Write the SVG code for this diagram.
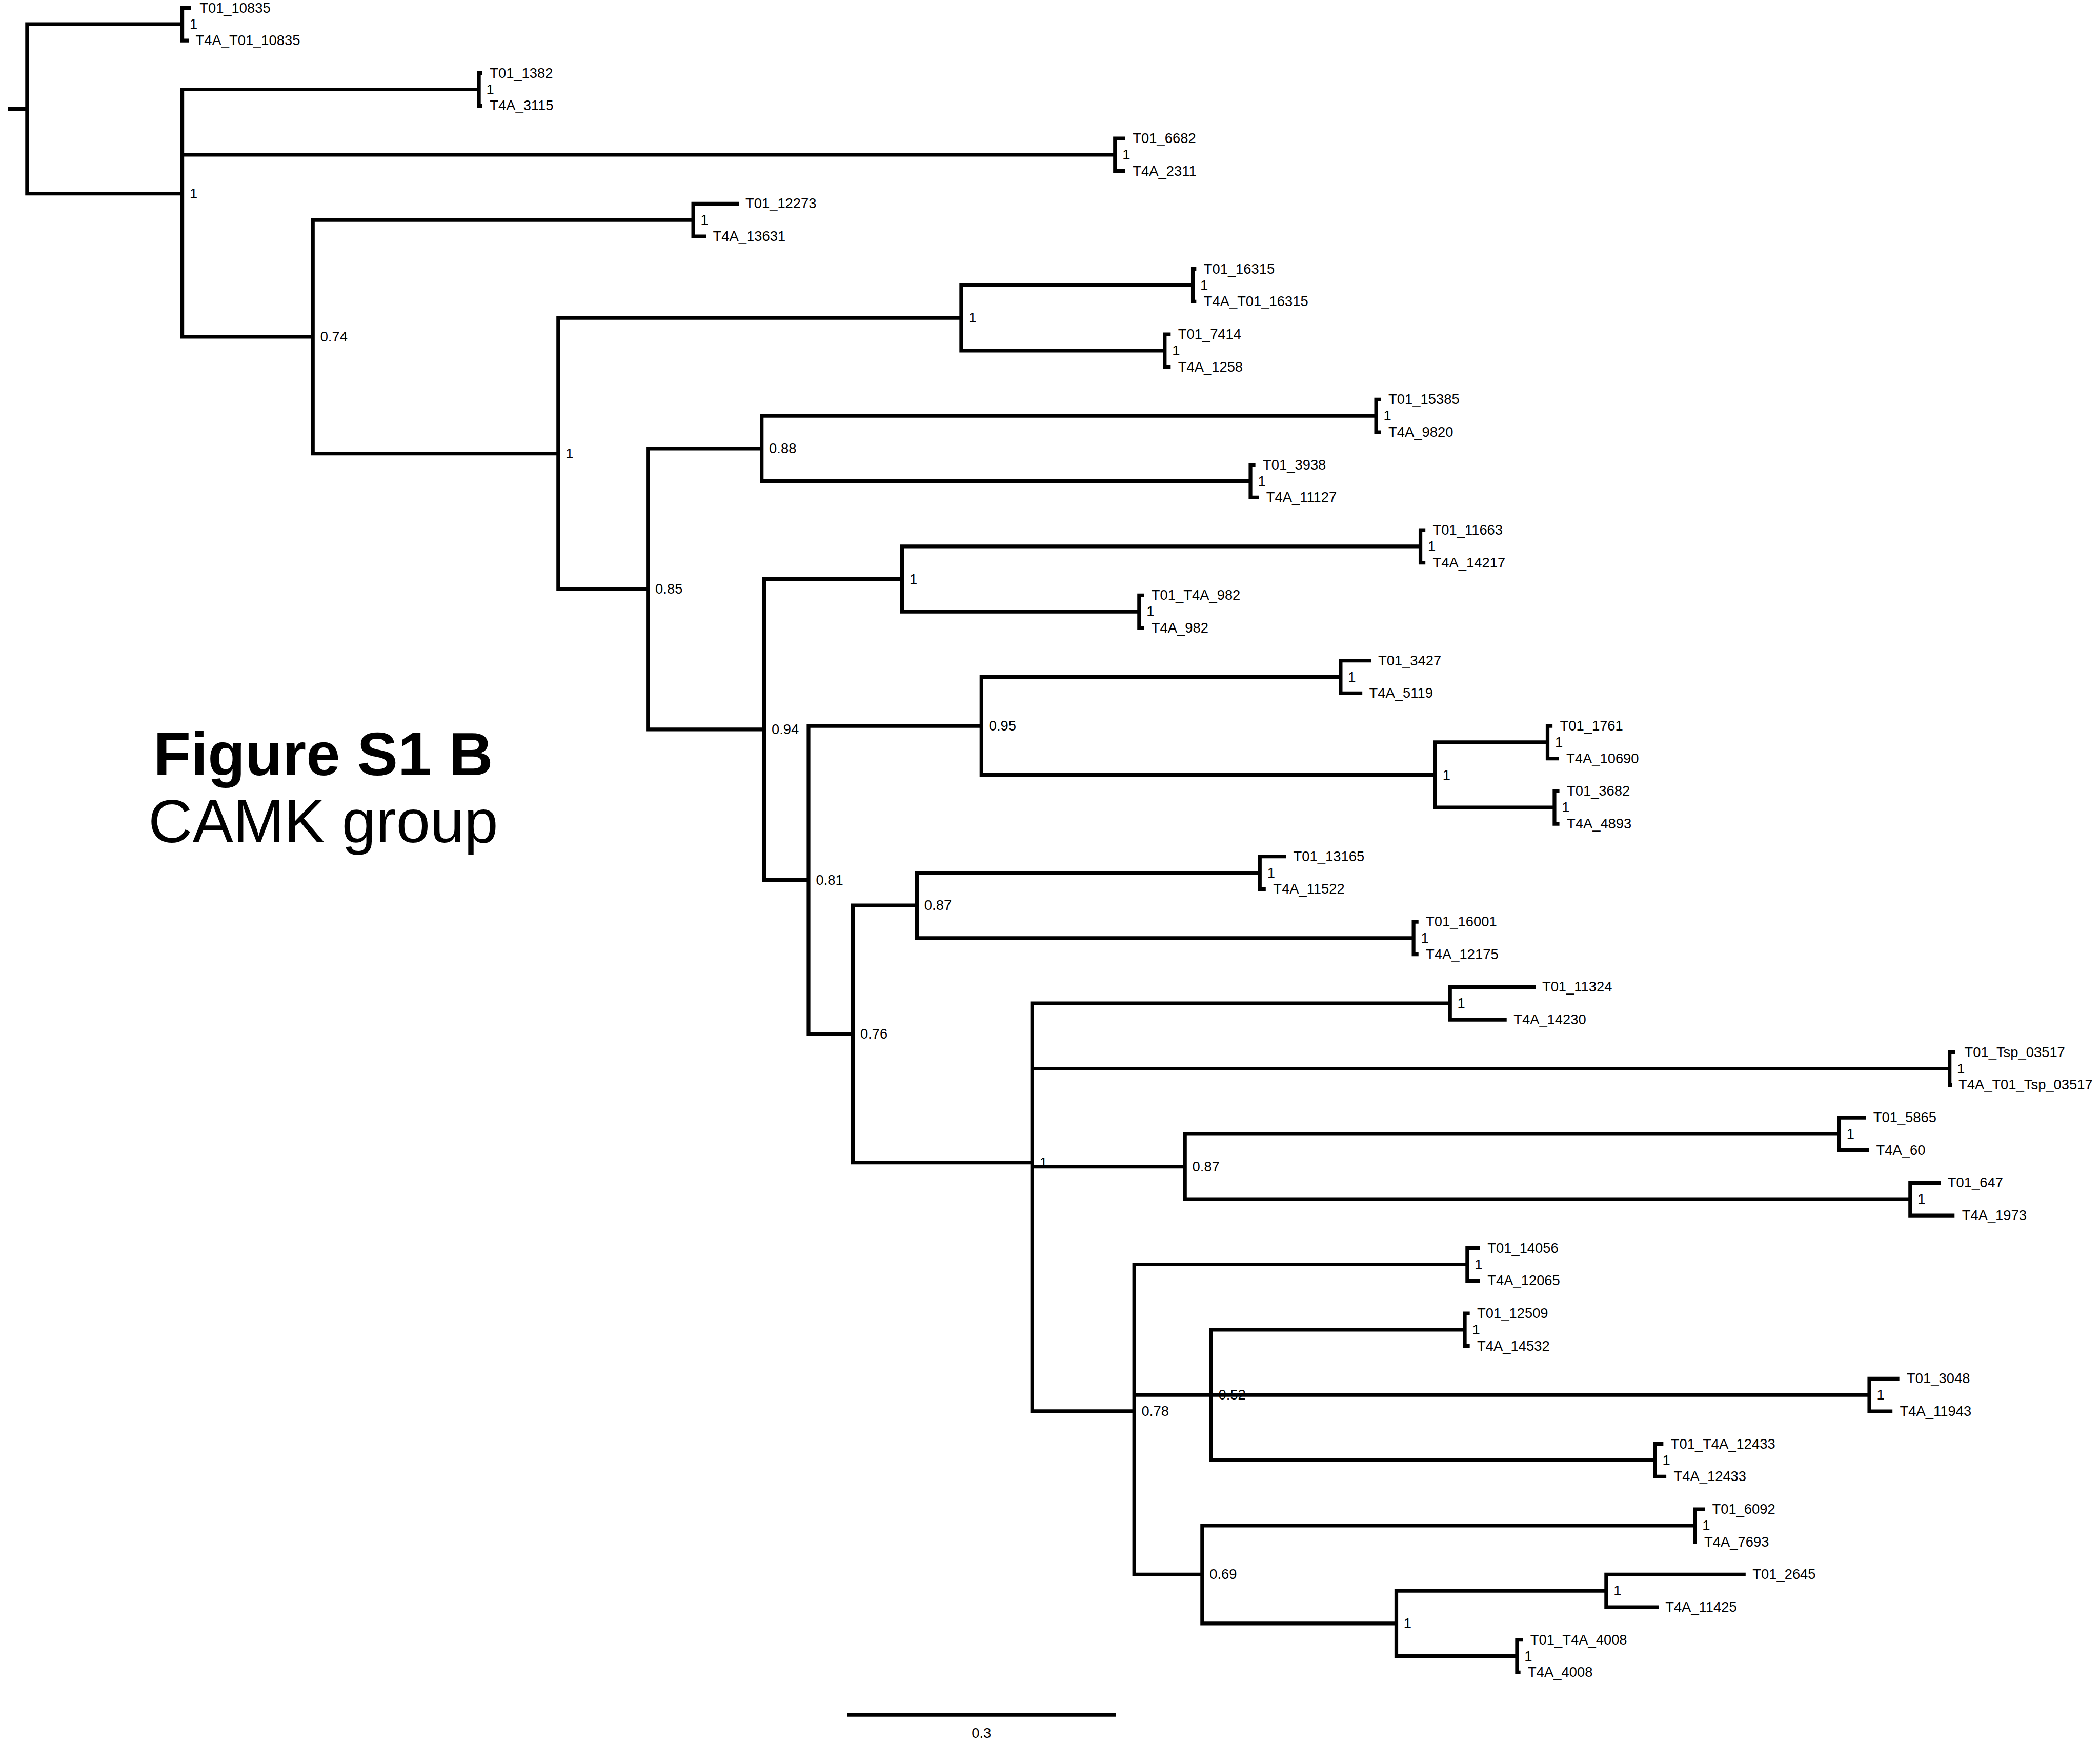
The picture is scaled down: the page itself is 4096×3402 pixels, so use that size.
<svg xmlns="http://www.w3.org/2000/svg" width="4096" height="3402" viewBox="0 0 4096 3402">
<style>
.b{fill:none;stroke:#000;stroke-width:7.5;stroke-linejoin:miter;stroke-linecap:butt}
.t{font-family:"Liberation Sans",Arial,Helvetica,sans-serif;font-size:28.5px;fill:#000}
.s{font-family:"Liberation Sans",Arial,Helvetica,sans-serif;font-size:28.5px;fill:#000}
.h1{font-family:"Liberation Sans",Arial,Helvetica,sans-serif;font-size:124px;font-weight:bold;fill:#000;text-anchor:middle}
.h2{font-family:"Liberation Sans",Arial,Helvetica,sans-serif;font-size:124px;fill:#000;text-anchor:middle}
</style>
<rect width="4096" height="3402" fill="#fff"/>
<g transform="scale(0.961)">
<g id="connectors">
<path class="b" d="M16 221.1H55"/>
<path class="b" d="M370 49.1H55V393.1H370"/>
<path class="b" d="M972 181.6H370V683.5H635M370 314.1H2263"/>
<path class="b" d="M1407 446.6H635V920.5H1133"/>
<path class="b" d="M1951 645.4H1133V1195.6H1315"/>
<path class="b" d="M2421 579.1H1951V711.6H2364"/>
<path class="b" d="M1546 910.4H1315V1480.7H1551"/>
<path class="b" d="M2793 844.1H1546V976.6H2538"/>
<path class="b" d="M1831 1175.4H1551V1786.1H1641"/>
<path class="b" d="M2883 1109.1H1831V1241.6H2312"/>
<path class="b" d="M1992 1473.5H1641V2098.7H1731"/>
<path class="b" d="M2721 1374.1H1992V1572.9H2913"/>
<path class="b" d="M3141 1506.6H2913V1639.1H3155"/>
<path class="b" d="M1861 1837.9H1731V2359.6H2095"/>
<path class="b" d="M2557 1771.6H1861V1904.1H2869"/>
<path class="b" d="M2943 2036.6H2095V2864.7H2302M2095 2169.1H3957M2095 2367.9H2405"/>
<path class="b" d="M3733 2301.6H2405V2434.1H3877"/>
<path class="b" d="M2978 2566.6H2302V3196H2440M2302 2831.6H2458"/>
<path class="b" d="M2973 2699.1H2458V2964.1H3359M2458 2831.6H3794"/>
<path class="b" d="M3440 3096.6H2440V3295.4H2834"/>
<path class="b" d="M3260 3229.1H2834V3361.6H3079"/>
<path class="b" d="M388 16H370V82.25H383"/>
<path class="b" d="M979 148.5H972V214.75H979"/>
<path class="b" d="M2284 281H2263V347.25H2284"/>
<path class="b" d="M1500 413.5H1407V479.75H1433"/>
<path class="b" d="M2428 546H2421V612.25H2428"/>
<path class="b" d="M2376 678.5H2364V744.75H2376"/>
<path class="b" d="M2803 811H2793V877.25H2803"/>
<path class="b" d="M2548 943.5H2538V1009.75H2555"/>
<path class="b" d="M2893 1076H2883V1142.25H2893"/>
<path class="b" d="M2322 1208.5H2312V1274.75H2322"/>
<path class="b" d="M2783 1341H2721V1407.25H2765"/>
<path class="b" d="M3151 1473.5H3141V1539.75H3164"/>
<path class="b" d="M3165 1606H3155V1672.25H3165"/>
<path class="b" d="M2610 1738.5H2557V1804.75H2569"/>
<path class="b" d="M2879 1871H2869V1937.25H2879"/>
<path class="b" d="M3117 2003.5H2943V2069.75H3058"/>
<path class="b" d="M3968 2136H3957V2202.25H3962"/>
<path class="b" d="M3787 2268.5H3733V2334.75H3793"/>
<path class="b" d="M3939 2401H3877V2467.25H3967"/>
<path class="b" d="M3004 2533.5H2978V2599.75H3004"/>
<path class="b" d="M2983 2666H2973V2732.25H2983"/>
<path class="b" d="M3855 2798.5H3794V2864.75H3841"/>
<path class="b" d="M3376 2931H3359V2997.25H3382"/>
<path class="b" d="M3460 3063.5H3440V3129.75H3444"/>
<path class="b" d="M3543 3196H3260V3262.25H3367"/>
<path class="b" d="M3091 3328.5H3079V3394.75H3086"/>
<path class="b" d="M1719.5 3481H2265"/>
</g>
<g id="internal-nodes">
<g id="n-root1"><text class="s" x="385" y="402.6">1</text></g>
<g id="n-074"><text class="s" x="650" y="693">0.74</text></g>
<g id="n-416"><text class="s" x="1148" y="930">1</text></g>
<g id="n-717"><text class="s" x="1966" y="654.9">1</text></g>
<g id="n-085"><text class="s" x="1330" y="1205.1">0.85</text></g>
<g id="n-088"><text class="s" x="1561" y="919.9">0.88</text></g>
<g id="n-094"><text class="s" x="1566" y="1490.2">0.94</text></g>
<g id="n-673"><text class="s" x="1846" y="1184.9">1</text></g>
<g id="n-081"><text class="s" x="1656" y="1795.6">0.81</text></g>
<g id="n-095"><text class="s" x="2007" y="1483">0.95</text></g>
<g id="n-1071"><text class="s" x="2928" y="1582.4">1</text></g>
<g id="n-076"><text class="s" x="1746" y="2108.2">0.76</text></g>
<g id="n-087a"><text class="s" x="1876" y="1847.4">0.87</text></g>
<g id="n-770"><text class="s" x="2110" y="2369.1">1</text></g>
<g id="n-087b"><text class="s" x="2420" y="2377.4">0.87</text></g>
<g id="n-078"><text class="s" x="2317" y="2874.2">0.78</text></g>
<g id="n-052"><text class="s" x="2473" y="2841.1">0.52</text></g>
<g id="n-069"><text class="s" x="2455" y="3205.5">0.69</text></g>
<g id="n-1042"><text class="s" x="2849" y="3304.9">1</text></g>
<g id="p0"><text class="s" x="385" y="58.6">1</text></g>
<g id="p1"><text class="s" x="987" y="191.1">1</text></g>
<g id="p2"><text class="s" x="2278" y="323.6">1</text></g>
<g id="p3"><text class="s" x="1422" y="456.1">1</text></g>
<g id="p4"><text class="s" x="2436" y="588.6">1</text></g>
<g id="p5"><text class="s" x="2379" y="721.1">1</text></g>
<g id="p6"><text class="s" x="2808" y="853.6">1</text></g>
<g id="p7"><text class="s" x="2553" y="986.1">1</text></g>
<g id="p8"><text class="s" x="2898" y="1118.6">1</text></g>
<g id="p9"><text class="s" x="2327" y="1251.1">1</text></g>
<g id="p10"><text class="s" x="2736" y="1383.6">1</text></g>
<g id="p11"><text class="s" x="3156" y="1516.1">1</text></g>
<g id="p12"><text class="s" x="3170" y="1648.6">1</text></g>
<g id="p13"><text class="s" x="2572" y="1781.1">1</text></g>
<g id="p14"><text class="s" x="2884" y="1913.6">1</text></g>
<g id="p15"><text class="s" x="2958" y="2046.1">1</text></g>
<g id="p16"><text class="s" x="3972" y="2178.6">1</text></g>
<g id="p17"><text class="s" x="3748" y="2311.1">1</text></g>
<g id="p18"><text class="s" x="3892" y="2443.6">1</text></g>
<g id="p19"><text class="s" x="2993" y="2576.1">1</text></g>
<g id="p20"><text class="s" x="2988" y="2708.6">1</text></g>
<g id="p21"><text class="s" x="3809" y="2841.1">1</text></g>
<g id="p22"><text class="s" x="3374" y="2973.6">1</text></g>
<g id="p23"><text class="s" x="3455" y="3106.1">1</text></g>
<g id="p24"><text class="s" x="3275" y="3238.6">1</text></g>
<g id="p25"><text class="s" x="3094" y="3371.1">1</text></g>
</g>
<g id="leaves">
<g id="l0"><text class="t" x="405" y="25.5">T01_10835</text></g>
<g id="l1"><text class="t" x="397" y="91.75">T4A_T01_10835</text></g>
<g id="l2"><text class="t" x="994" y="158">T01_1382</text></g>
<g id="l3"><text class="t" x="994" y="224.25">T4A_3115</text></g>
<g id="l4"><text class="t" x="2299" y="290.5">T01_6682</text></g>
<g id="l5"><text class="t" x="2299" y="356.75">T4A_2311</text></g>
<g id="l6"><text class="t" x="1513" y="423">T01_12273</text></g>
<g id="l7"><text class="t" x="1447" y="489.25">T4A_13631</text></g>
<g id="l8"><text class="t" x="2443" y="555.5">T01_16315</text></g>
<g id="l9"><text class="t" x="2443" y="621.75">T4A_T01_16315</text></g>
<g id="l10"><text class="t" x="2391" y="688">T01_7414</text></g>
<g id="l11"><text class="t" x="2391" y="754.25">T4A_1258</text></g>
<g id="l12"><text class="t" x="2818" y="820.5">T01_15385</text></g>
<g id="l13"><text class="t" x="2818" y="886.75">T4A_9820</text></g>
<g id="l14"><text class="t" x="2563" y="953">T01_3938</text></g>
<g id="l15"><text class="t" x="2570" y="1019.25">T4A_11127</text></g>
<g id="l16"><text class="t" x="2908" y="1085.5">T01_11663</text></g>
<g id="l17"><text class="t" x="2908" y="1151.75">T4A_14217</text></g>
<g id="l18"><text class="t" x="2337" y="1218">T01_T4A_982</text></g>
<g id="l19"><text class="t" x="2337" y="1284.25">T4A_982</text></g>
<g id="l20"><text class="t" x="2797" y="1350.5">T01_3427</text></g>
<g id="l21"><text class="t" x="2779" y="1416.75">T4A_5119</text></g>
<g id="l22"><text class="t" x="3166" y="1483">T01_1761</text></g>
<g id="l23"><text class="t" x="3179" y="1549.25">T4A_10690</text></g>
<g id="l24"><text class="t" x="3180" y="1615.5">T01_3682</text></g>
<g id="l25"><text class="t" x="3180" y="1681.75">T4A_4893</text></g>
<g id="l26"><text class="t" x="2625" y="1748">T01_13165</text></g>
<g id="l27"><text class="t" x="2584" y="1814.25">T4A_11522</text></g>
<g id="l28"><text class="t" x="2894" y="1880.5">T01_16001</text></g>
<g id="l29"><text class="t" x="2894" y="1946.75">T4A_12175</text></g>
<g id="l30"><text class="t" x="3130" y="2013">T01_11324</text></g>
<g id="l31"><text class="t" x="3072" y="2079.25">T4A_14230</text></g>
<g id="l32"><text class="t" x="3987" y="2145.5">T01_Tsp_03517</text></g>
<g id="l33"><text class="t" x="3975" y="2211.75">T4A_T01_Tsp_03517</text></g>
<g id="l34"><text class="t" x="3802" y="2278">T01_5865</text></g>
<g id="l35"><text class="t" x="3808" y="2344.25">T4A_60</text></g>
<g id="l36"><text class="t" x="3953" y="2410.5">T01_647</text></g>
<g id="l37"><text class="t" x="3982" y="2476.75">T4A_1973</text></g>
<g id="l38"><text class="t" x="3019" y="2543">T01_14056</text></g>
<g id="l39"><text class="t" x="3019" y="2609.25">T4A_12065</text></g>
<g id="l40"><text class="t" x="2998" y="2675.5">T01_12509</text></g>
<g id="l41"><text class="t" x="2998" y="2741.75">T4A_14532</text></g>
<g id="l42"><text class="t" x="3870" y="2808">T01_3048</text></g>
<g id="l43"><text class="t" x="3856" y="2874.25">T4A_11943</text></g>
<g id="l44"><text class="t" x="3391" y="2940.5">T01_T4A_12433</text></g>
<g id="l45"><text class="t" x="3397" y="3006.75">T4A_12433</text></g>
<g id="l46"><text class="t" x="3475" y="3073">T01_6092</text></g>
<g id="l47"><text class="t" x="3459" y="3139.25">T4A_7693</text></g>
<g id="l48"><text class="t" x="3557" y="3205.5">T01_2645</text></g>
<g id="l49"><text class="t" x="3380" y="3271.75">T4A_11425</text></g>
<g id="l50"><text class="t" x="3106" y="3338">T01_T4A_4008</text></g>
<g id="l51"><text class="t" x="3101" y="3404.25">T4A_4008</text></g>
</g>
<g id="scale-label"><text class="s" x="1992" y="3528" text-anchor="middle">0.3</text></g>
<g id="title">
<text class="h1" x="656" y="1573">Figure S1 B</text>
<text class="h2" x="656" y="1710">CAMK group</text>
</g>
</g>
</svg>
